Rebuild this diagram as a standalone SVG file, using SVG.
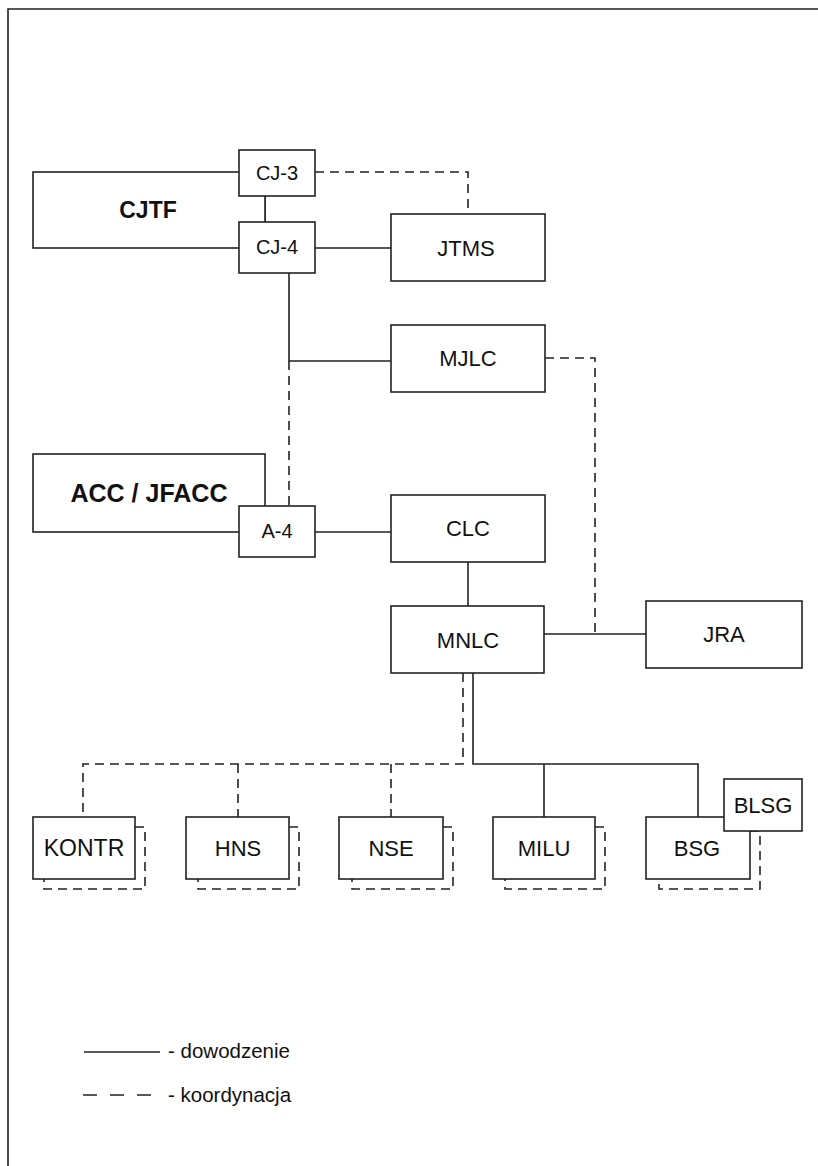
<svg xmlns="http://www.w3.org/2000/svg" width="818" height="1166" viewBox="0 0 818 1166">
<style>
.b{fill:#fff;stroke:#222;stroke-width:1.6}
.s{fill:none;stroke:#222;stroke-width:1.6}
.d{fill:none;stroke:#222;stroke-width:1.6;stroke-dasharray:9 6}
.t{font-family:"Liberation Sans",Arial,sans-serif;font-size:22px;fill:#111;text-anchor:middle;dominant-baseline:central}
.ts{font-size:20px}
.tb{font-family:"Liberation Sans",Arial,sans-serif;font-size:23px;font-weight:bold;fill:#111;text-anchor:middle;dominant-baseline:central}
.lg{font-family:"Liberation Sans",Arial,sans-serif;font-size:20.5px;fill:#111}
</style>
<rect width="818" height="1166" fill="#fff"/>
<path class="s" d="M8 1166 V9 H818"/>
<g id="connectors">
<path class="s" d="M265 196 V222"/>
<path class="d" d="M315 172 H468 V214"/>
<path class="s" d="M315 248 H391"/>
<path class="s" d="M289 273 V361 H391"/>
<path class="d" d="M289 361 V506"/>
<path class="d" d="M545 358 H595 V634"/>
<path class="s" d="M315 532 H391"/>
<path class="s" d="M468 562 V606"/>
<path class="s" d="M544 634 H646"/>
<path class="d" d="M463 673 V764 H83 V817"/>
<path class="d" d="M238 764 V817"/>
<path class="d" d="M391 764 V817"/>
<path class="s" d="M473 673 V764 H698 V817"/>
<path class="s" d="M544 764 V817"/>
</g>
<g id="CJTF"><rect class="b" x="33" y="172" width="232" height="76"/><text class="tb" x="148" y="210">CJTF</text></g>
<g id="CJ-3"><rect class="b" x="239" y="150" width="76" height="46"/><text class="t ts" x="277" y="173">CJ-3</text></g>
<g id="CJ-4"><rect class="b" x="239" y="222" width="76" height="51"/><text class="t ts" x="277" y="247">CJ-4</text></g>
<g id="JTMS"><rect class="b" x="391" y="214" width="154" height="67"/><text class="t" x="466" y="248">JTMS</text></g>
<g id="MJLC"><rect class="b" x="391" y="325" width="154" height="67"/><text class="t" x="468" y="358">MJLC</text></g>
<g id="ACC"><rect class="b" x="33" y="454" width="232" height="78"/><text class="tb" x="149" y="493" style="font-size:25px">ACC / JFACC</text></g>
<g id="A-4"><rect class="b" x="239" y="506" width="76" height="51"/><text class="t ts" x="277" y="531">A-4</text></g>
<g id="CLC"><rect class="b" x="391" y="495" width="154" height="67"/><text class="t" x="468" y="528">CLC</text></g>
<g id="MNLC"><rect class="b" x="391" y="606" width="153" height="67"/><text class="t" x="468" y="640">MNLC</text></g>
<g id="JRA"><rect class="b" x="646" y="601" width="156" height="67"/><text class="t" x="724" y="634">JRA</text></g>
<g id="KONTR"><path class="d" d="M135 827 H145 V889 H44 V879"/><rect class="b" x="33" y="817" width="102" height="62"/><text class="t" x="84" y="848" style="font-size:23px">KONTR</text></g>
<g id="HNS"><path class="d" d="M289 827 H299 V889 H198 V879"/><rect class="b" x="186" y="817" width="103" height="62"/><text class="t" x="238" y="848">HNS</text></g>
<g id="NSE"><path class="d" d="M443 827 H453 V889 H352 V879"/><rect class="b" x="339" y="817" width="104" height="62"/><text class="t" x="391" y="848">NSE</text></g>
<g id="MILU"><path class="d" d="M595 827 H605 V889 H505 V879"/><rect class="b" x="493" y="817" width="102" height="62"/><text class="t" x="544" y="848">MILU</text></g>
<g id="BSG"><path class="d" d="M750 831 H760 V889 H659 V879"/><rect class="b" x="646" y="817" width="104" height="62"/><text class="t" x="697" y="848">BSG</text></g>
<g id="BLSG"><rect class="b" x="724" y="779" width="78" height="52"/><text class="t" x="763" y="805">BLSG</text></g>
<g id="legend">
<path class="s" d="M84 1052 H160"/>
<text class="lg" x="168" y="1058">- dowodzenie</text>
<path class="s" d="M83 1095 H160" stroke-dasharray="14 13"/>
<text class="lg" x="168" y="1102">- koordynacja</text>
</g>
</svg>
